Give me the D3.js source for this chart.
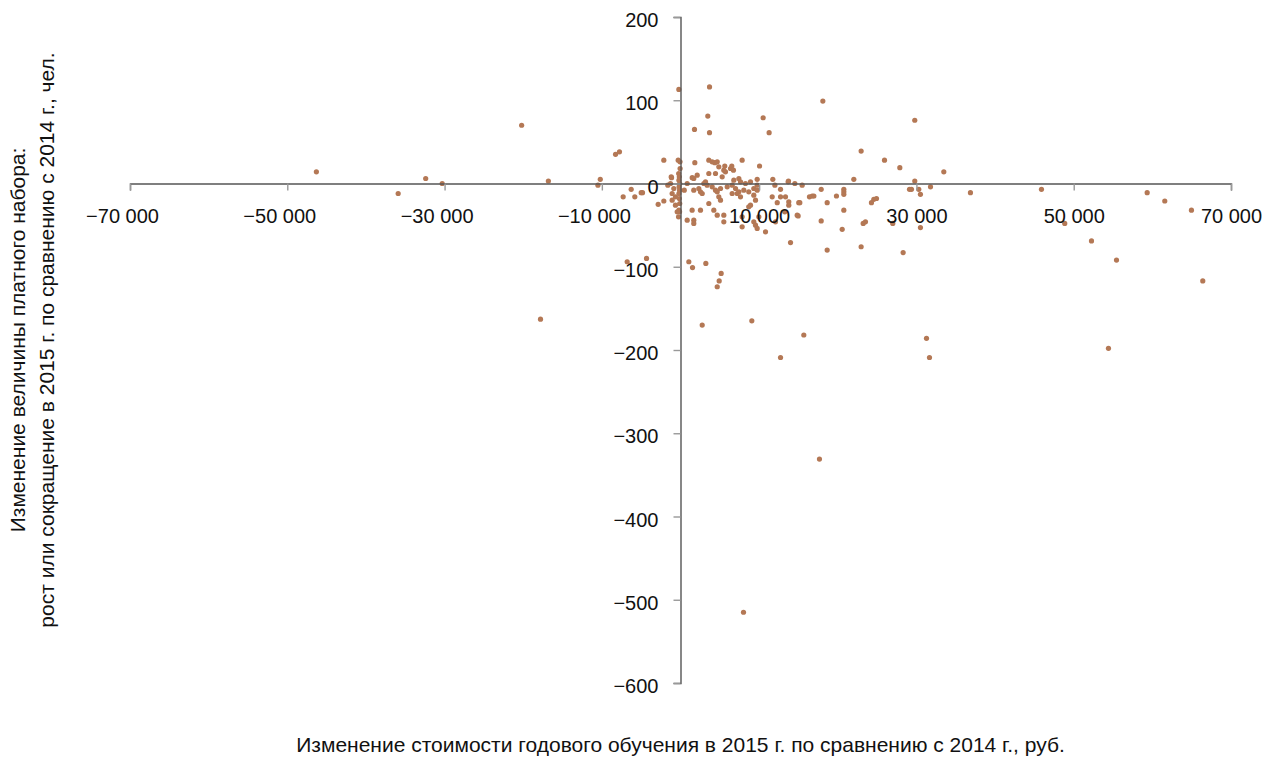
<!DOCTYPE html>
<html>
<head>
<meta charset="utf-8">
<script src="https://cdn.jsdelivr.net/npm/d3@7"></script>
<style>
  body { margin: 0; background: #fff; }
  .chart text { font-family: "Liberation Sans", Arial, sans-serif; fill: #111; }
  .axis .domain { stroke: #555; stroke-width: 1.4; }
  .axis .tick line { stroke: #999; stroke-width: 1.4; }
</style>
</head>
<body>
<div class="chart"></div>
<script>
// change of yearly tuition cost, rub (x) and change of paid enrolment, persons (y)
var xValues = [
  -46300, -35900, -32400, -30300, -20200, -16800, -17800, -10200, -10500, -8260,
  -7760, -7290, -6270, -5810, -5000, -4830, -2120, -2840, -2120, -1610,
  -1140, -6780, -4320, -290, -210, -230, -150, -200, -100, -180,
  -120, -200, -150, -100, -200, -120, -60, -1180, -1270, -850,
  -1060, -1060, -640, -640, -420, -250, -50, 1820, 3600, 4360,
  4870, 5630, 5720, 6360, 6780, 7420, 2120, 1690, 3600, 4450,
  5300, 3180, 2970, 3390, 850, 2330, 1690, 2540, 2760, 4030,
  4450, 4670, 5090, 5940, 6570, 7000, 7210, 6570, 4870, 5090,
  3600, 2540, 1480, 4240, 4670, 5510, 5510, 850, 1690, 1690,
  4030, 4670, 6520, 6730, 5510, 1490, 480, 7840, 10050, 7630,
  8260, 8900, 9750, 9750, 11740, 12000, 12720, 13690, 14540, 15470,
  7420, 8050, 8680, 9320, 9750, 7630, 9320, 11660, 12720, 13350,
  9540, 8900, 8680, 12300, 13770, 13770, 15040, 14840, 16400, 7840,
  9320, 9540, 9960, 12080, 7840, 9750, 10810, 13260, 14960, 13990,
  13730, 22970, 25940, 27890, 33480, 22040, 29790, 31790, 20770, 20770,
  20770, 17890, 16750, 16960, 18650, 19830, 20770, 24280, 24580, 24920,
  29120, 29370, 30300, 30510, 17890, 20560, 23230, 23520, 26990, 30510,
  18650, 22970, 28310, 18100, 29790, 36870, 15170, 45900, 48860, 52260,
  55440, 59340, 61580, 64970, 66410, 54420, 1060, 1530, 3220, 5170,
  4920, 4670, 2760, 9070, 15680, 12720, 8010, 17670, 31280, 31660,
  3690, 3470, 1780, 3690, 10510, 11270
];
var yValues = [
  14, -12, 6, 0, 70, 3, -163, 5, -2, 35,
  38, -16, -7, -16, -11, -11, 28, -25, -21, -2,
  7, -94, -90, 28, 113, 12, 8, 4, 0, -4,
  -8, -12, -18, -24, -32, -34, 26, 8, 0, -6,
  -12, -20, -16, -26, -34, -40, 18, 25, 28, 25,
  20, 21, 14, 18, 4, 6, 10, 6, 12, 12,
  8, 2, 0, -2, 0, -6, -8, -10, -12, -4,
  -8, -10, -6, -4, -2, -6, -12, -12, -16, -20,
  -24, -32, -32, -32, -38, -38, -46, -44, -44, -48,
  26, 26, 21, 16, 16, 7, -8, 28, 21, 2,
  0, 2, 5, -2, 5, -2, -7, 2, 0, -2,
  -10, -8, -10, -6, -8, -16, -14, -16, -16, -16,
  -20, -26, -28, -23, -22, -26, -23, -38, -16, -40,
  -46, -50, -40, -46, -52, -54, -58, -34, -39, -71,
  3, 39, 28, 19, 14, 5, 3, -4, -7, -10,
  -13, -7, -15, -15, -23, -15, -32, -23, -19, -18,
  -7, -7, -7, -13, -45, -55, -48, -46, -48, -53,
  -80, -76, -83, 99, 76, -11, -23, -7, -48, -69,
  -92, -11, -21, -32, -117, -198, -94, -101, -96, -108,
  -117, -124, -170, -165, -182, -209, -515, -331, -186, -209,
  116, 81, 65, 61, 79, 61
];

var xTicks = [-70000, -50000, -30000, -10000, 10000, 30000, 50000, 70000];
var yTicks = [200, 100, 0, -100, -200, -300, -400, -500, -600];

var xTitle = "Изменение стоимости годового обучения в 2015 г. по сравнению с 2014 г., руб.";
var yTitle = ["Изменение величины платного набора:",
  "рост или сокращение в 2015 г. по сравнению с 2014 г., чел."];

var svgWidth = 1274;
var svgHeight = 758;
var margin = { top: 17, right: 43, bottom: 75, left: 130 };
var width = svgWidth - margin.left - margin.right;
var height = svgHeight - margin.top - margin.bottom;

var svg = d3.select(".chart")
  .append("svg")
  .attr("width", svgWidth)
  .attr("height", svgHeight);

var chart = svg.append("g")
  .attr("transform", `translate(${margin.left}, ${margin.top})`);

var xScale = d3.scaleLinear().domain([-70000, 70000]).range([0, width]);
var yScale = d3.scaleLinear().domain([-600, 200]).range([height, 0]);

// russian style numbers: space for thousands, real minus sign
var ru = d3.formatLocale({ decimal: ",", thousands: "\u00a0", grouping: [3], currency: ["", ""], minus: "\u2212" });
var fmt = ru.format(",d");

var points = xValues.map(function(x, i) { return { x: x, y: yValues[i] }; });

chart.selectAll("circle")
  .data(points)
  .enter().append("circle")
  .attr("cx", function(d) { return xScale(d.x); })
  .attr("cy", function(d) { return yScale(d.y); })
  .attr("r", 2.6)
  .attr("fill", "#b47855");

// axes cross at zero
var bottomAxis = d3.axisBottom(xScale)
  .tickValues(xTicks)
  .tickFormat(fmt)
  .tickSize(7)
  .tickPadding(18);

var leftAxis = d3.axisLeft(yScale)
  .tickValues(yTicks)
  .tickFormat(fmt)
  .tickSize(7)
  .tickPadding(15);

var gx = chart.append("g")
  .attr("class", "axis")
  .attr("transform", `translate(0, ${yScale(0)})`)
  .call(bottomAxis);

var gy = chart.append("g")
  .attr("class", "axis")
  .attr("transform", `translate(${xScale(0)}, 0)`)
  .call(leftAxis);

svg.selectAll(".axis text")
  .style("font-size", "20px")
  .style("fill", "#111");

// negative x labels sit a bit to the left of their tick, like in the original
gx.selectAll(".tick text")
  .attr("dx", function(d) { return d < 0 ? -8 : 0; });

gy.selectAll(".tick text")
  .attr("dy", "0.48em");

// axis titles
svg.append("text")
  .attr("x", margin.left + xScale(0))
  .attr("y", 752)
  .attr("text-anchor", "middle")
  .style("font-size", "21px")
  .text(xTitle);

svg.append("g")
  .attr("transform", "translate(25, 340) rotate(-90)")
  .selectAll("text")
  .data(yTitle)
  .enter().append("text")
  .attr("x", 0)
  .attr("y", function(d, i) { return i * 29; })
  .attr("text-anchor", "middle")
  .style("font-size", "21px")
  .text(function(d) { return d; });
</script>
</body>
</html>
